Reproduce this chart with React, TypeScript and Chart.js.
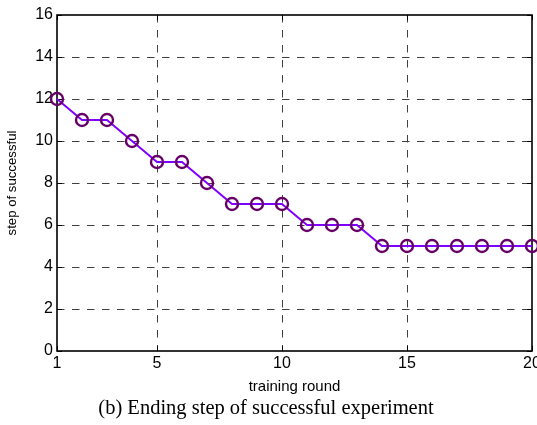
import React, { useEffect, useRef } from "react";
import { Chart, registerables } from "chart.js";

Chart.register(...registerables);

const rounds = [1, 2, 3, 4, 5, 6, 7, 8, 9, 10, 11, 12, 13, 14, 15, 16, 17, 18, 19, 20];
const steps = [12, 11, 11, 10, 9, 9, 8, 7, 7, 7, 6, 6, 6, 5, 5, 5, 5, 5, 5, 5];
const xTicks = [1, 5, 10, 15, 20];
const yTicks = [0, 2, 4, 6, 8, 10, 12, 14, 16];

const SANS = "'Liberation Sans', Arial, sans-serif";
const SERIF = "'Liberation Serif', 'Times New Roman', serif";

const frame = {
  id: "frame",
  beforeDatasetsDraw(chart: any) {
    const { ctx, chartArea: a, scales } = chart;
    ctx.save();
    ctx.strokeStyle = "#000";
    ctx.lineWidth = 1;
    const L = 5;
    ctx.beginPath();
    for (const v of xTicks) {
      const x = Math.round(scales.x.getPixelForValue(v)) + 0.5;
      ctx.moveTo(x, a.bottom);
      ctx.lineTo(x, a.bottom - L);
      ctx.moveTo(x, a.top);
      ctx.lineTo(x, a.top + L);
    }
    for (const v of yTicks) {
      const y = Math.round(scales.y.getPixelForValue(v)) + 0.5;
      ctx.moveTo(a.left, y);
      ctx.lineTo(a.left + L, y);
      ctx.moveTo(a.right, y);
      ctx.lineTo(a.right - L, y);
    }
    ctx.stroke();
    ctx.lineWidth = 1.6;
    ctx.strokeRect(a.left, a.top, a.right - a.left, a.bottom - a.top);
    ctx.restore();
  },
};

const zeroPad = () => ({ left: 0, right: 0, top: 0, bottom: 0 });

export default function App() {
  const ref = useRef<HTMLCanvasElement>(null);
  useEffect(() => {
    if (!ref.current) return;
    const chart = new Chart(ref.current, {
      type: "line",
      data: {
        datasets: [
          {
            data: rounds.map((r, i) => ({ x: r, y: steps[i] })),
            borderColor: "#8000ff",
            borderWidth: 2,
            pointRadius: 6,
            pointBorderWidth: 2.4,
            pointBorderColor: "#660066",
            pointBackgroundColor: "rgba(0,0,0,0)",
            tension: 0,
            clip: false as any,
          },
        ],
      },
      plugins: [frame],
      options: {
        animation: false,
        responsive: false,
        layout: { autoPadding: false, padding: { left: 0, right: 5, top: 15, bottom: 0 } },
        plugins: {
          legend: { display: false },
          tooltip: { enabled: false },
          title: {
            display: true,
            position: "bottom",
            text: "(b) Ending step of successful experiment",
            color: "#000",
            font: { family: SERIF, size: 20.5, weight: "normal", lineHeight: 1.2 },
            padding: { top: 0, bottom: 4 },
          },
        },
        scales: {
          x: {
            type: "linear",
            min: 1,
            max: 20,
            afterBuildTicks: (s: any) => {
              s.ticks = xTicks.map((v) => ({ value: v }));
            },
            afterFit: (s: any) => {
              s.height = 45.4;
              s.paddingLeft = 0;
              s.paddingRight = 0;
              s.getPadding = zeroPad;
            },
            border: { display: false, dash: [7.5, 7.5] },
            grid: {
              color: (c: any) => (c.tick && (c.tick.value === 1 || c.tick.value === 20) ? "rgba(0,0,0,0)" : "#404040"),
              lineWidth: 1,
              drawTicks: false,
            },
            ticks: {
              color: "#000",
              padding: 3,
              maxRotation: 0,
              autoSkip: false,
              font: { family: SANS, size: 16 },
            },
            title: {
              display: true,
              text: "training round",
              color: "#000",
              font: { family: SANS, size: 15, lineHeight: 1.2 },
              padding: { top: 0, bottom: 0.5 },
            },
          },
          y: {
            min: 0,
            max: 16,
            afterBuildTicks: (s: any) => {
              s.ticks = yTicks.map((v) => ({ value: v }));
            },
            afterFit: (s: any) => {
              s.width = 57;
              s.paddingTop = 0;
              s.paddingBottom = 0;
              s.getPadding = zeroPad;
            },
            border: { display: false, dash: [7.5, 7.5] },
            grid: {
              color: (c: any) => (c.tick && (c.tick.value === 0 || c.tick.value === 16) ? "rgba(0,0,0,0)" : "#404040"),
              lineWidth: 1,
              drawTicks: false,
            },
            ticks: {
              color: "#000",
              padding: 4,
              autoSkip: false,
              font: { family: SANS, size: 16 },
            },
            title: {
              display: true,
              text: "step of successful",
              color: "#000",
              font: { family: SANS, size: 13.2, lineHeight: 1.2 },
              padding: { top: 4, bottom: 0 },
            },
          },
        },
      } as any,
    });
    return () => chart.destroy();
  }, []);
  return (
    <div style={{ position: "absolute", left: 0, top: 0, width: 537, height: 425, background: "#fff" }}>
      <canvas ref={ref} width={537} height={425} style={{ width: 537, height: 425 }} />
    </div>
  );
}
